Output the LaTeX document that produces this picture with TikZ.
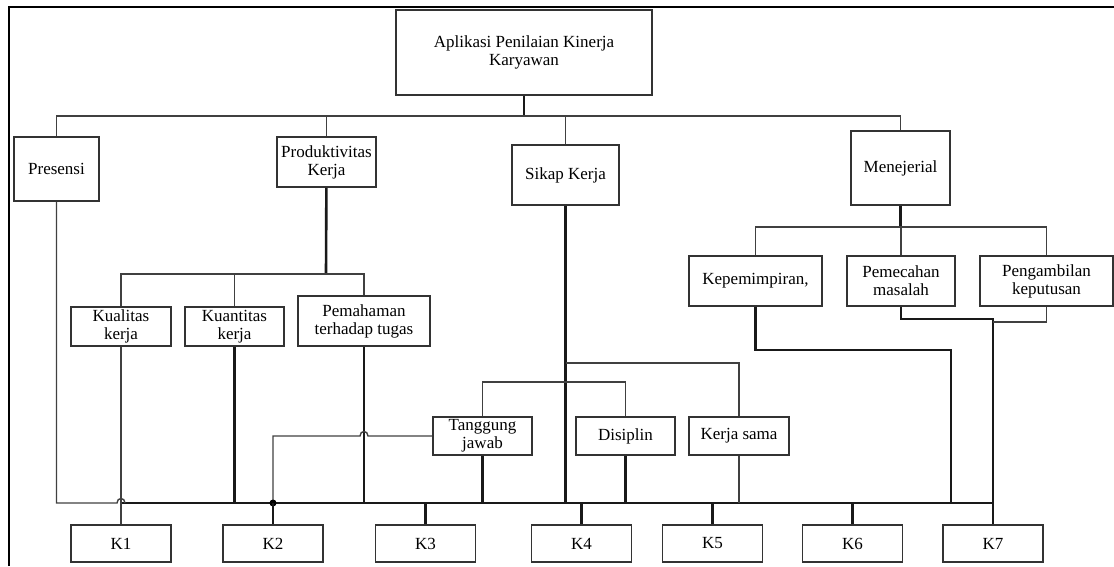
\documentclass[tikz,border=0pt]{standalone}
\usepackage{fontspec}
\setmainfont{Liberation Serif}
\usetikzlibrary{positioning}

\begin{document}
\begin{tikzpicture}[
    x=1pt,
    y=-1pt,
    every node/.style={font=\fontsize{17}{18}\selectfont},
    box/.style={draw=black!80, line width=1.6pt, fill=white, inner sep=0pt, align=center},
    thinline/.style={line width=1.4pt, draw=black!75},
    thickline/.style={line width=2.6pt, draw=black!90},
    kbox/.style={box, minimum width=100pt, minimum height=37pt}
  ]
  \useasboundingbox (0,0) rectangle (1114,566);
  %
  \draw[line width=1.6pt] (9,566) -- (9,7) -- (1114,7);

  %
  \node[box, minimum width=256pt, minimum height=85pt] (root) at (524,52.5) {Aplikasi Penilaian Kinerja\\Karyawan};
  \node[box, minimum width=85pt, minimum height=64pt] (presensi) at (56.5,169) {Presensi};
  \node[box, minimum width=99pt, minimum height=50pt] (produk) at (326.5,162) {Produktivitas\\Kerja};
  \node[box, minimum width=107pt, minimum height=60pt] (sikap) at (565.5,175) {Sikap Kerja};
  \node[box, minimum width=99pt, minimum height=74pt] (menej) at (900.5,168) {Menejerial};

  \node[box, minimum width=100pt, minimum height=39pt] (kualitas) at (121,326.5) {Kualitas\\kerja};
  \node[box, minimum width=99pt, minimum height=39pt] (kuantitas) at (234.5,326.5) {Kuantitas\\kerja};
  \node[box, minimum width=132pt, minimum height=50pt] (pemahaman) at (364,321) {Pemahaman\\terhadap tugas};
  \node[box, minimum width=133pt, minimum height=50pt] (kepemimpinan) at (755.5,281) {Kepemimpiran,};
  \node[box, minimum width=108pt, minimum height=50pt] (pemecahan) at (901,281) {Pemecahan\\masalah};
  \node[box, minimum width=133pt, minimum height=50pt] (pengambilan) at (1046.5,281) {Pengambilan\\keputusan};
  \node[box, minimum width=99pt, minimum height=38pt] (tanggung) at (482.5,436) {Tanggung\\jawab};
  \node[box, minimum width=99pt, minimum height=38pt] (disiplin) at (625.5,436) {Disiplin};
  \node[box, minimum width=100pt, minimum height=38pt] (kerjasama) at (739,436) {Kerja sama};

  \foreach \n/\x in {1/121,2/273,3/425.5,4/581.5,5/712.5,6/852.5,7/993}
    \node[kbox] (k\n) at (\x,543.5) {K\n};

  %
  \coordinate (topbus) at (524,116);
  \draw[thickline] (root) -- (topbus);
  \draw[thinline] (presensi) |- (topbus) -| (menej);
  \draw[thinline] (produk) -- (produk |- topbus);
  \draw[thinline] (sikap) -- (sikap |- topbus);

  %
  \coordinate (pbus) at (326,274);
  \draw[thickline] (produk) -- (pbus);
  \draw[thinline] (kualitas) |- (pbus) -| (pemahaman);
  \draw[thinline] (kuantitas) -- (kuantitas |- pbus);

  %
  \coordinate (mbus) at (900.5,227);
  \draw[thickline] (menej) -- (mbus);
  \draw[thinline] (kepemimpinan) |- (mbus) -| (pengambilan);
  \draw[thinline] (pemecahan) -- (pemecahan |- mbus);

  %
  \coordinate (botbus) at (0,503);
  \coordinate (sbus1) at (565.5,363);
  \coordinate (sbus2) at (565.5,382);
  \draw[thickline] (sikap) -- (sikap |- botbus);
  \draw[thinline] (sbus1) -| (kerjasama);
  \draw[thinline] (tanggung) |- (sbus2) -| (disiplin);

  %
  \draw[thickline] (kualitas |- botbus) -- (k7 |- botbus);
  \draw[thinline] (kualitas) -- (k1);
  \foreach \src in {kuantitas,pemahaman,tanggung,disiplin}
    \draw[thickline] (\src) -- (\src |- botbus);
  \draw[thinline] (kerjasama) -- (kerjasama |- botbus);
  \foreach \n in {3,4,5,6}
    \draw[thickline] (k\n) -- (k\n |- botbus);

  %
  \coordinate (hopL) at (117,503);
  \coordinate (hopR) at (125,503);
  \draw[thinline] (presensi) |- (hopL) .. controls (117,497) and (125,497) .. (hopR);

  %
  \coordinate (tjR) at (368,436);
  \coordinate (tjL) at (360,436);
  \coordinate (k2bus) at (273,503);
  \draw[thinline] (tanggung) -- (tjR) .. controls (368,430) and (360,430) .. (tjL) -| (k2bus);
  \fill (k2bus) circle (3.5pt);
  \draw[thickline] (k2bus) -- (k2);

  %
  \coordinate (kpturn) at (951,350);
  \coordinate (pcturn) at (993,319);
  \draw[thickline] (kepemimpinan) |- (kpturn) -- (kpturn |- botbus);
  \draw[thickline] (pemecahan) |- (pcturn) -- (k7);
  \draw[thinline] (pengambilan) |- (993,322);
\end{tikzpicture}
\end{document}
